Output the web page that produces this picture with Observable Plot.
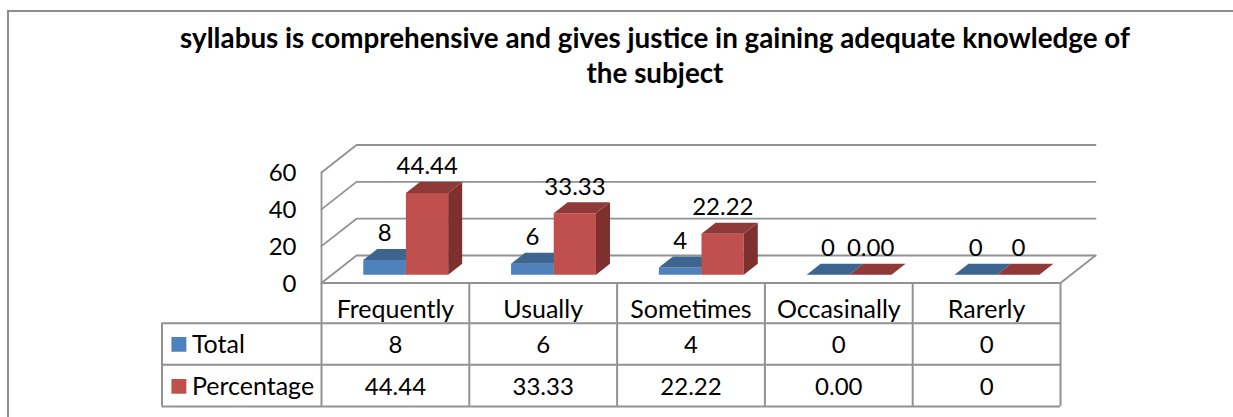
<!DOCTYPE html>
<html>
<head>
<meta charset="utf-8">
<script src="https://cdn.jsdelivr.net/npm/d3@7"></script>
<script src="https://cdn.jsdelivr.net/npm/@observablehq/plot@0.6"></script>
<style>
  html, body { margin: 0; background: #fff; overflow: hidden; }
  #border { position: absolute; left: 7px; top: 10px; right: -8px; bottom: -5px;
            border-left: 2px solid #8c8c8c; border-top: 2px solid #8c8c8c; pointer-events: none; }
  #title { height: 100px; box-sizing: border-box; width: 1310px; padding-top: 20px; text-align: center;
           font: bold 27.8px/35px Lato, sans-serif; color: #000; }
  #chart { display: block; }
</style>
</head>
<body>
<div id="title">syllabus is comprehensive and gives justice in gaining adequate knowledge of<br>the subject</div>
<div id="chart"></div>
<div id="border"></div>
<script>
const categories = ["Frequently", "Usually", "Sometimes", "Occasinally", "Rarerly"];
const totals = [8, 6, 4, 0, 0];
const percentages = [44.44, 33.33, 22.22, 0, 0];
const totalLabels = ["8", "6", "4", "0", "0"];
const percentLabels = ["44.44", "33.33", "22.22", "0.00", "0"];
const seriesNames = ["Total", "Percentage"];
const yTicks = [0, 20, 40, 60];

// Oblique projection of the 3D box, in data units (x: categories, y: values)
const DEPTH_X = 0.2368, DEPTH_Y = 14.93;
const BAR_FRONT = 0.3, BAR_BACK = 0.7, BAR_W = 0.2885;
const project = (x, v, d) => ({x: x + d * DEPTH_X, y: v + d * DEPTH_Y});

const GRAY = "#929292";
const palette = {
  blue: {front: "#4F81BD", top: "#3D6590", side: "#3A5F8A"},
  red:  {front: "#C0504D", top: "#8F3A38", side: "#7E302E"}
};

// Wall and floor lines
const frameLines = [];
const addLine = (id, pts) => pts.forEach(p => frameLines.push({id, ...p}));
yTicks.forEach(v => {
  addLine("grid" + v, [project(0, v, 0), project(0, v, 1), project(5, v, 1)]);
});
addLine("axis", [project(0, 0, 0), project(0, 60, 0)]);
addLine("floorRight", [project(5, 0, 0), project(5, 0, 1)]);

// Bar faces
const faces = [];
const addFace = (id, fill, pts) => pts.forEach(p => faces.push({id, fill, ...p}));
function addBar(id, colors, x0, x1, v) {
  addFace(id + "front", colors.front, [
    project(x0, 0, BAR_FRONT), project(x1, 0, BAR_FRONT), project(x1, v, BAR_FRONT), project(x0, v, BAR_FRONT)]);
  addFace(id + "side", colors.side, [
    project(x1, 0, BAR_FRONT), project(x1, 0, BAR_BACK), project(x1, v, BAR_BACK), project(x1, v, BAR_FRONT)]);
  addFace(id + "top", colors.top, [
    project(x0, v, BAR_FRONT), project(x1, v, BAR_FRONT), project(x1, v, BAR_BACK), project(x0, v, BAR_BACK)]);
}
categories.forEach((c, i) => {
  addBar("t" + i, palette.blue, i + 0.5 - BAR_W, i + 0.5, totals[i]);
  addBar("p" + i, palette.red, i + 0.5, i + 0.5 + BAR_W - 0.0025, percentages[i]);
});

const barLabels = categories.flatMap((c, i) => [
  {...project(i + 0.5 - BAR_W / 2, totals[i], BAR_FRONT), text: totalLabels[i]},
  {...project(i + 0.5 + BAR_W / 2, percentages[i], BAR_FRONT), text: percentLabels[i]}
]);

// Data table below the axis, in the same units
const TABLE_LEFT = -1.079;
const ROW_EDGES = [0, -21.9, -44.4, -67.1];
const ROW_MID = [-14.6, -33.6, -56.4];
const LEGEND_X = [-1.012, -0.911];
const LABEL_X = -0.877;
const tableCols = [0, 1, 2, 3, 4, 5];
const tableCells = categories.flatMap((c, i) => [
  {x: i + 0.5, y: ROW_MID[0], text: c, size: 25},
  {x: i + 0.5, y: ROW_MID[1], text: totalLabels[i], size: 24},
  {x: i + 0.5, y: ROW_MID[2], text: percentLabels[i], size: 24}
]);
const legendRows = [
  {name: seriesNames[0], y: ROW_MID[1], fill: palette.blue.front},
  {name: seriesNames[1], y: ROW_MID[2], fill: palette.red.front}
];

const chart = Plot.plot({
  width: 1233, height: 317,
  marginLeft: 321, marginRight: 173, marginTop: 72, marginBottom: 134.5,
  style: {fontFamily: "Lato, sans-serif", fontSize: "25px", color: "#000", background: "transparent"},
  x: {type: "linear", domain: [0, 5], axis: null},
  y: {type: "linear", domain: [0, 60], axis: null},
  color: {type: "identity"},
  marks: [
    Plot.line(frameLines, {x: "x", y: "y", z: "id", stroke: GRAY, strokeWidth: 1.8, curve: "linear"}),
    Plot.line(faces, {x: "x", y: "y", z: "id", fill: "fill", stroke: "none", curve: "linear"}),
    Plot.axisY(yTicks, {tickSize: 0, tickPadding: 25, fontSize: 24, dy: 1, anchor: "left", label: null, fill: "#000"}),
    Plot.text(barLabels, {x: "x", y: "y", text: "text", dy: -26.5, fontSize: 24, fill: "#000"}),
    // table grid
    Plot.ruleX(tableCols, {x: d => d, y1: ROW_EDGES[0], y2: ROW_EDGES[3], stroke: GRAY, strokeWidth: 2}),
    Plot.ruleX([TABLE_LEFT], {y1: ROW_EDGES[1], y2: ROW_EDGES[3], stroke: GRAY, strokeWidth: 2}),
    Plot.ruleY([ROW_EDGES[0]], {x1: 0, x2: 5, stroke: GRAY, strokeWidth: 2}),
    Plot.ruleY(ROW_EDGES.slice(1), {x1: TABLE_LEFT, x2: 5, stroke: GRAY, strokeWidth: 2}),
    Plot.text(tableCells, {x: "x", y: "y", text: "text", fontSize: "size", fill: "#000"}),
    Plot.rect(legendRows, {x1: LEGEND_X[0], x2: LEGEND_X[1], y1: d => d.y - 4, y2: d => d.y + 4, fill: "fill"}),
    Plot.text(legendRows, {x: LABEL_X, y: "y", text: "name", textAnchor: "start", fontSize: 25, fill: "#000"})
  ]
});
document.getElementById("chart").appendChild(chart);
</script>
</body>
</html>
